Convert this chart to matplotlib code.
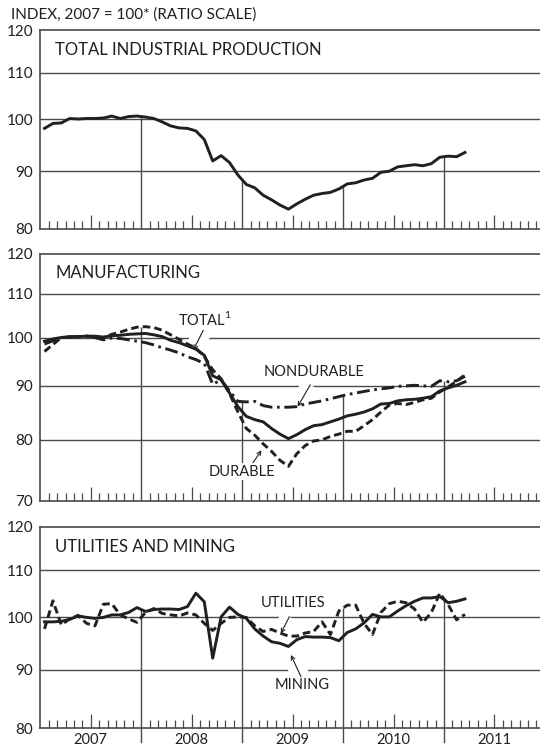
import matplotlib

matplotlib.use("Agg")
import matplotlib.pyplot as plt
import numpy as np
from matplotlib.patches import FancyArrowPatch
from matplotlib.ticker import FixedLocator, NullLocator

plt.rcParams["font.family"] = ["Lato", "DejaVu Sans"]

# monthly index values, Jan 2007 .. Mar 2011 (2007 = 100)
YEARS = ["2007", "2008", "2009", "2010", "2011"]

ip_total = [
    98.2, 99.2, 99.3, 100.2, 100.1, 100.2, 100.2, 100.3, 100.7, 100.2,
    100.6, 100.7, 100.5, 100.2, 99.5, 98.7, 98.3, 98.2, 97.7, 96.0,
    91.9, 92.9, 91.6, 89.3, 87.6, 87.0, 85.7, 84.9, 84.0, 83.3,
    84.2, 85.0, 85.7, 86.0, 86.2, 86.8, 87.7, 87.9, 88.4, 88.7,
    89.8, 90.0, 90.8, 91.0, 91.2, 91.0, 91.4, 92.6, 92.8, 92.7, 93.5,
]
mfg_total = [
    99.2, 99.7, 100.0, 100.1, 100.2, 100.3, 100.3, 100.1, 100.4, 100.5,
    100.7, 100.8, 100.9, 100.6, 100.2, 99.4, 98.9, 98.2, 97.5, 96.2,
    92.0, 91.2, 88.6, 86.0, 84.2, 83.6, 83.2, 82.0, 81.0, 80.2,
    80.9, 81.8, 82.5, 82.7, 83.2, 83.7, 84.3, 84.6, 85.0, 85.6,
    86.5, 86.6, 87.1, 87.3, 87.4, 87.6, 87.9, 89.0, 89.6, 90.1, 90.8,
]
mfg_durable = [
    97.0, 98.5, 100.0, 100.2, 100.2, 100.3, 100.2, 100.0, 100.7, 101.2,
    101.8, 102.3, 102.4, 102.2, 101.6, 100.6, 99.6, 98.6, 97.7, 96.0,
    93.2, 91.4, 88.5, 85.0, 82.0, 80.8, 79.3, 78.0, 76.5, 75.5,
    77.6, 79.0, 79.8, 80.0, 80.6, 81.0, 81.5, 81.5, 82.5, 83.6,
    85.0, 86.3, 86.6, 86.4, 86.8, 87.3, 87.6, 88.8, 89.8, 90.9, 92.2,
]
mfg_nondurable = [
    98.6, 99.3, 100.0, 100.2, 100.2, 100.3, 100.0, 99.5, 99.9, 99.8,
    99.5, 99.2, 98.9, 98.4, 97.8, 97.3, 96.7, 95.9, 95.3, 94.5,
    90.3, 91.2, 89.0, 87.0, 86.9, 87.0, 86.2, 85.9, 85.9, 85.9,
    86.0, 86.5, 86.8, 87.1, 87.5, 87.9, 88.3, 88.6, 88.9, 89.2,
    89.4, 89.6, 89.9, 90.0, 90.1, 90.0, 89.9, 91.0, 90.8, 91.0, 91.9,
]
mining = [
    99.1, 99.1, 99.2, 99.6, 100.3, 100.0, 99.8, 100.0, 100.5, 100.5,
    101.0, 102.0, 101.2, 101.6, 101.7, 101.7, 101.6, 102.2, 105.0, 103.2,
    92.1, 100.1, 102.1, 100.6, 99.8, 97.7, 96.3, 95.2, 94.9, 94.3,
    95.6, 96.2, 96.1, 96.1, 96.0, 95.4, 97.0, 97.7, 98.9, 100.6,
    100.1, 100.1, 101.3, 102.4, 103.3, 104.0, 104.0, 104.3, 103.0, 103.3, 103.8,
]
utilities = [
    97.7, 103.4, 98.5, 99.7, 100.4, 98.8, 98.3, 102.7, 102.8, 100.5,
    99.7, 99.0, 101.0, 101.8, 100.8, 100.5, 100.3, 100.9, 100.5, 98.8,
    97.4, 98.8, 100.0, 100.1, 100.0, 98.3, 97.2, 97.6, 96.9, 96.3,
    96.3, 96.9, 97.2, 99.1, 96.6, 101.3, 102.5, 102.5, 98.8, 96.6,
    101.0, 102.8, 103.3, 103.0, 101.7, 99.0, 101.0, 105.0, 102.6, 99.5, 100.6,
]

W, H = 540, 748
INK = "#231f20"
GRID = "#4a4a4a"
LEFT_PX = 40.3
MONTH_PX = 8.39
XMAX = (W - LEFT_PX) / MONTH_PX
LW = 2.1
DASHED = (0, (2.6, 1.4))
DASHDOT = (0, (4.4, 1.6, 0.9, 1.6))


def _panel(fig, top_px, bottom_px, ymin, ymax, ticks):
    ax = fig.add_axes([LEFT_PX / W, 1 - bottom_px / H,
                       (W - LEFT_PX) / W + 0.01, (bottom_px - top_px) / H])
    ax.set_yscale("log")
    ax.set_ylim(ymin, ymax)
    ax.set_xlim(0, XMAX + 0.5)
    ax.yaxis.set_major_locator(FixedLocator(ticks))
    ax.yaxis.set_minor_locator(NullLocator())
    ax.set_yticks(ticks, [str(t) for t in ticks])
    ax.tick_params(axis="y", length=0, pad=5, labelsize=11, labelcolor=INK)
    for v in ticks[1:-1]:
        ax.axhline(v, color=GRID, lw=1.0, zorder=1)
    months = np.arange(1, 60)
    ax.xaxis.set_major_locator(FixedLocator([m for m in months if m % 12 == 6]))
    ax.xaxis.set_minor_locator(FixedLocator([m for m in months if m % 6]))
    ax.tick_params(axis="x", which="major", direction="in", length=10,
                   width=0.9, color=GRID, labelbottom=False)
    ax.tick_params(axis="x", which="minor", direction="in", length=5.8,
                   width=0.9, color=GRID)
    ax.spines["right"].set_visible(False)
    for s in ("left", "top", "bottom"):
        ax.spines[s].set_color(GRID)
        ax.spines[s].set_linewidth(1.2)
    ax.set_facecolor("none")
    return ax


def _year_lines(ax, series, ymin, below=False):
    x = np.arange(len(series[0])) + 0.5
    for j in (12, 24, 36, 48):
        top = max(np.interp(j, x, s) for s in series)
        ax.vlines(j, ymin, top, color=GRID, lw=1.0, zorder=1)
        if below:
            ax.plot([j, j], [0, -0.072], transform=ax.get_xaxis_transform(),
                    color=GRID, lw=1.0, clip_on=False)


def _label(ax, text, xy_text, tail, head):
    ax.text(*xy_text, text, ha="center", va="center", fontsize=10.5, color=INK,
            zorder=5, bbox=dict(facecolor="white", edgecolor="none", pad=1.0))
    ax.plot([tail[0], head[0]], [tail[1], head[1]], color="white", lw=13,
            solid_capstyle="butt", zorder=1.5)
    ax.add_patch(FancyArrowPatch(tail, head, arrowstyle="->", mutation_scale=7,
                                 color=INK, lw=0.8, shrinkA=0, shrinkB=0, zorder=4))


def _title(ax, text, y):
    ax.text(0.03, y, text, transform=ax.transAxes, fontsize=12, color=INK,
            va="center", ha="left")


fig = plt.figure(figsize=(W / 100, H / 100), dpi=100)
x = np.arange(len(ip_total)) + 0.5

fig.text(11 / W, 1 - 15 / H, "INDEX, 2007 = 100* (RATIO SCALE)", fontsize=11,
         color=INK, va="center", ha="left")

# total industrial production
ax1 = _panel(fig, 30, 229, 80, 120, [80, 90, 100, 110, 120])
_year_lines(ax1, [ip_total], 80)
ax1.plot(x, ip_total, color=INK, lw=LW, zorder=3)
_title(ax1, "TOTAL INDUSTRIAL PRODUCTION", 0.90)

# manufacturing
ax2 = _panel(fig, 254, 501, 70, 120, [70, 80, 90, 100, 110, 120])
_year_lines(ax2, [mfg_total, mfg_durable, mfg_nondurable], 70)
ax2.plot(x, mfg_total, color=INK, lw=LW, zorder=3)
ax2.plot(x, mfg_durable, color=INK, lw=LW, ls=DASHED, zorder=3)
ax2.plot(x, mfg_nondurable, color=INK, lw=LW, ls=DASHDOT, zorder=3)
_title(ax2, "MANUFACTURING", 0.923)
_label(ax2, "TOTAL$^{\\mathregular{1}}$", (19.6, 104.1), (19.4, 101.7), (18.2, 97.3))
_label(ax2, "NONDURABLE", (32.5, 92.8), (32.1, 90.2), (30.6, 86.0))
_label(ax2, "DURABLE", (24.0, 74.6), (25.0, 75.5), (26.3, 78.2))

# utilities and mining
ax3 = _panel(fig, 527, 728, 80, 120, [80, 90, 100, 110, 120])
_year_lines(ax3, [mining, utilities], 80, below=True)
ax3.plot(x, mining, color=INK, lw=LW, zorder=3)
ax3.plot(x, utilities, color=INK, lw=LW, ls=DASHED, zorder=3)
_title(ax3, "UTILITIES AND MINING", 0.902)
_label(ax3, "UTILITIES", (30.1, 102.9), (29.6, 100.1), (28.6, 96.8))
_label(ax3, "MINING", (31.1, 87.2), (31.0, 88.7), (29.8, 92.7))
for k, yr in enumerate(YEARS):
    ax3.text(12 * k + 6, -0.06, yr, transform=ax3.get_xaxis_transform(),
             ha="center", va="center", fontsize=10.5, color=INK)

fig.savefig("out.png", dpi=100)
